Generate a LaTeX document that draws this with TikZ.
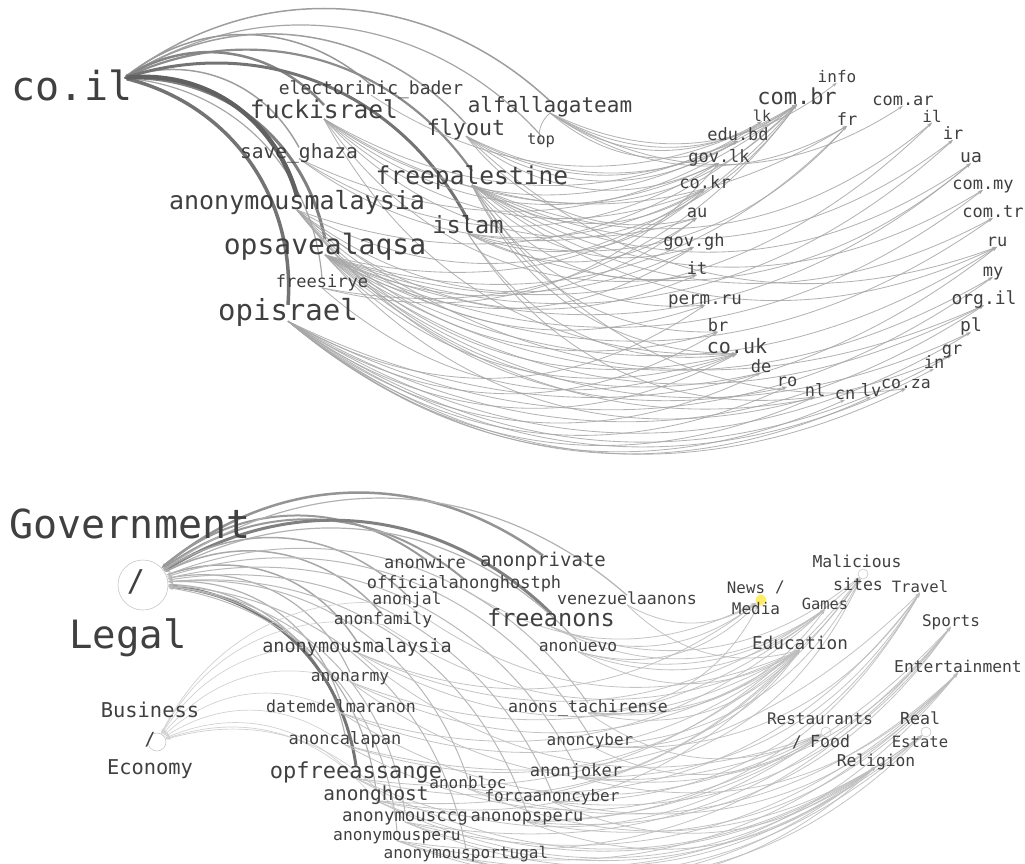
\documentclass[tikz,border=0pt]{standalone}
\usepackage{fontspec}
\setmainfont{DejaVu Sans Mono}
\usetikzlibrary{arrows.meta}
\pgfdeclarelayer{bg}
\pgfsetlayers{bg,main}
\newcommand{\us}{\char`\_}
\tikzset{
  lbl/.style={font=\fontsize{#1}{#1}\selectfont, text=black!75, inner sep=0pt,
              text height={0.55*#1pt}, text depth=0pt},
  dot/.style={circle, draw=black!22, line width=0.6pt, inner sep=0pt, minimum size=#1},
  tip/.style={-{Stealth[length=5pt,width=3.2pt]}},
  hub/.style={tip, line width=#1},
  de/.style={tip, draw=black!35, line width=0.85pt, opacity=0.85},
  ce/.style={tip, draw=black!26, line width=0.8pt, opacity=0.9},
  be/.style={tip, draw=black!18, line width=0.7pt}
}
\begin{document}
\begin{tikzpicture}[x=1pt,y=-1pt]
\useasboundingbox (0,0) rectangle (1025,863);

% ---------------- top: co.il ----------------
\node[lbl=40] (coil) at (72,89) {co.il};
\coordinate (coilh) at (124,78);

\node[lbl=18]   (EB) at (371,90)  {electorinic\us bader};
\node[lbl=24.6] (FI) at (324,112) {fuckisrael};
\node[lbl=21]   (AT) at (550,107) {alfallagateam};
\node[lbl=21.6] (FO) at (466,130) {flyout};
\node[lbl=15.5] (TP) at (541,140) {top};
\node[lbl=19.6] (SG) at (299,153) {save\us ghaza};
\node[lbl=24.6] (FP) at (472,178) {freepalestine};
\node[lbl=25]   (AM) at (297,203) {anonymousmalaysia};
\node[lbl=23.6] (IS) at (468,227) {islam};
\node[lbl=28]   (OS) at (325,247) {opsavealaqsa};
\node[lbl=17]   (FS) at (322,283) {freesirye};
\node[lbl=29]   (OI) at (288,313) {opisrael};

\node[lbl=16] (info)   at (837,78)  {info};
\node[lbl=22] (combr)  at (797,98)  {com.br};
\node[lbl=17] (comar)  at (903,101) {com.ar};
\node[lbl=15] (lk)     at (762,117) {lk};
\node[lbl=17] (fr)     at (847,121) {fr};
\node[lbl=16] (il)     at (932,118) {il};
\node[lbl=17] (edubd)  at (738,136) {edu.bd};
\node[lbl=17] (ir)     at (953,135) {ir};
\node[lbl=17] (govlk)  at (719,158) {gov.lk};
\node[lbl=18] (ua)     at (971,158) {ua};
\node[lbl=17] (cokr)   at (705,184) {co.kr};
\node[lbl=17] (commy)  at (983,185) {com.my};
\node[lbl=17] (au)     at (697,213) {au};
\node[lbl=17] (comtr)  at (993,213) {com.tr};
\node[lbl=17] (govgh)  at (694,242) {gov.gh};
\node[lbl=17] (ru)     at (997,242) {ru};
\node[lbl=17] (it)     at (697,270) {it};
\node[lbl=17] (my)     at (993,272) {my};
\node[lbl=17.5] (permru) at (705,300) {perm.ru};
\node[lbl=18] (orgil)  at (984,300) {org.il};
\node[lbl=17] (br)     at (718,327) {br};
\node[lbl=18] (pl)     at (971,327) {pl};
\node[lbl=20] (couk)   at (737,348) {co.uk};
\node[lbl=17] (gr)     at (952,350) {gr};
\node[lbl=17] (de)     at (761,368) {de};
\node[lbl=17] (in)     at (934,364) {in};
\node[lbl=17] (ro)     at (787,382) {ro};
\node[lbl=17] (nl)     at (815,392) {nl};
\node[lbl=17] (cn)     at (845,395) {cn};
\node[lbl=17] (lv)     at (871,392) {lv};
\node[lbl=16.5] (coza) at (906,384) {co.za};

% ---------------- bottom: categories ----------------
\node[lbl=40] (govt) at (130,527) {Government};
\node[dot=50pt] (gov) at (143,585) {};
\node[lbl=30] (govsl) at (136,583) {/};
\node[lbl=39] (legal) at (128,638) {Legal};
\node[lbl=20.4] (business) at (150,712) {Business};
\node[dot=18pt] (bus) at (157,742) {};
\node[lbl=18] (bussl) at (150,741) {/};
\node[lbl=20.4] (economy) at (150,769) {Economy};

\node[lbl=17]   (AW)  at (425,564) {anonwire};
\node[lbl=19]   (AP)  at (543,561) {anonprivate};
\node[lbl=17]   (OA)  at (464,584) {officialanonghostph};
\node[lbl=16.6] (VZ)  at (627,600) {venezuelaanons};
\node[lbl=16.4] (AJ)  at (407,600) {anonjal};
\node[lbl=16.3] (AF)  at (383,620) {anonfamily};
\node[lbl=23.6] (FA)  at (551,620) {freeanons};
\node[lbl=18.5] (AM2) at (357,647) {anonymousmalaysia};
\node[lbl=16.3] (AN)  at (578,647) {anonuevo};
\node[lbl=16.3] (AR)  at (350,677) {anonarmy};
\node[lbl=16.6] (DM)  at (341,708) {datemdelmaranon};
\node[lbl=16.6] (TA)  at (588,708) {anons\us tachirense};
\node[lbl=17]   (AC)  at (345,740) {anoncalapan};
\node[lbl=16]   (CY)  at (590,741) {anoncyber};
\node[lbl=22]   (OF)  at (356,772) {opfreeassange};
\node[lbl=17]   (JK)  at (576,772) {anonjoker};
\node[lbl=16]   (BL)  at (468,784) {anonbloc};
\node[lbl=19.4] (GH)  at (376,795) {anonghost};
\node[lbl=16]   (FC)  at (552,797) {forcaanoncyber};
\node[lbl=17.4] (CC)  at (405,817) {anonymousccg};
\node[lbl=17]   (PS)  at (527,817) {anonopsperu};
\node[lbl=16.3] (PE)  at (397,836) {anonymousperu};
\node[lbl=16.1] (PT)  at (466,854) {anonymousportugal};

\node[lbl=16.4] (malicious) at (857,563) {Malicious};
\node[dot=10pt] (mal) at (863,574) {};
\node[lbl=16.6] (sites) at (858,586) {sites};
\node[lbl=15.6] (travel) at (920,588) {Travel};
\node[lbl=15.8] (newsl) at (746,589) {News};
\node[lbl=16] (newssl) at (780,588) {/};
\node[circle, fill=yellow!85!orange!60, inner sep=0pt, minimum size=11pt] (news) at (761,600) {};
\node[lbl=16] (media) at (756,610) {Media};
\node[lbl=15.4] (games) at (825,605) {Games};
\node[lbl=16] (sports) at (951,622) {Sports};
\node[lbl=17.7] (edu) at (800,645) {Education};
\node[lbl=16.3] (ent) at (958,668) {Entertainment};
\node[lbl=16] (restaurants) at (820,720) {Restaurants};
\node[lbl=16.6] (reall) at (920,720) {Real};
\node[dot=10pt] (rest) at (826,732) {};
\node[dot=10pt] (real) at (926,732) {};
\node[lbl=16] (restsl) at (797,743) {/};
\node[lbl=16.6] (food) at (830,743) {Food};
\node[lbl=15.6] (estate) at (920,743) {Estate};
\node[lbl=16.3] (rel) at (876,762) {Religion};

\begin{pgfonlayer}{bg}
% top: hacker -> co.il
\foreach \s/\w/\c in {TP/1.2/35, AT/1.5/38, FO/1.5/38, EB/1.5/40, FP/2.2/45, FI/2.5/48,
                       SG/1.5/38, IS/3/55, FS/1.2/35, OS/3/50, OI/3.5/55, AM/4.5/62}
  \draw[hub=\w pt, draw=black!\c] (\s.north) to[bend right=40] (coilh);
% top: hacker -> domains
\foreach \s/\t in {OI/coza, OI/cn, OI/nl, OI/lv, OI/in, OI/gr, OI/pl, OI/orgil, OI/my, OI/ru,
                   OI/de, OI/ro, OI/couk, OI/br, OI/permru,
                   OS/combr, OS/fr, OS/il, OS/ir, OS/ua, OS/commy, OS/comtr, OS/ru, OS/my,
                   OS/orgil, OS/pl, OS/gr, OS/couk, OS/nl, OS/govgh, OS/au,
                   FP/combr, FP/il, FP/ir, FP/ua, FP/commy, FP/comtr, FP/ru, FP/couk, FP/br,
                   FP/permru, FP/it, FP/govgh, FP/cokr, FP/coza,
                   FI/combr, FI/edubd, FI/govlk, FI/cokr, FI/au, FI/fr, FI/couk, FI/it,
                   FO/combr, FO/lk, FO/edubd, FO/govlk, FO/au, FO/ru,
                   AM/combr, AM/cokr, AM/govgh, AM/it, AM/permru, AM/br, AM/couk, AM/de,
                   AM/ro, AM/orgil,
                   IS/combr, IS/fr, IS/cokr, IS/au, IS/couk, IS/nl, IS/ua,
                   AT/edubd, AT/combr, AT/lk, AT/fr, AT/info, AT/comar, AT/TP,
                   SG/combr, SG/govlk, SG/cokr, EB/combr, FS/combr, FS/govlk, FS/couk}
  \draw[de] (\s.south) to[bend right=32] (\t.south);

% bottom: hacker -> Government / Legal
\foreach \s/\w/\c in {AP/2.5/42, AW/2/40, OA/2/40, FA/3/50, VZ/1.2/30, AN/1.2/30, AJ/1.5/34,
                       AF/1.5/34, AM2/1.5/34, AR/1.2/30, DM/1.2/30, TA/1/28, AC/1.2/30,
                       CY/1/28, OF/3/55, JK/1/28, BL/1/28, GH/1.2/30, FC/1/28, CC/1/28,
                       PS/1/28, PE/1/28, PT/1/28}
  \draw[hub=\w pt, draw=black!\c] (\s.north) to[bend right=38] (gov);
% bottom: hacker -> Business / Economy
\foreach \s in {DM, AC, AM2, AR, AF, OF, GH, CC, AJ}
  \draw[be] (\s.south) to[bend right=35] (bus);
% bottom: hacker -> other categories
\foreach \s/\t in {AN/news, FA/news, VZ/news, OA/news, AM2/news, TA/news,
                   FA/mal, AN/mal, TA/mal, CY/mal, JK/mal, GH/mal, OF/mal,
                   CY/travel.south, JK/travel.south, FC/travel.south, BL/travel.south,
                   PS/travel.south, AC/travel.south,
                   FA/games.south, AN/games.south, TA/games.south, AM2/games.south,
                   DM/games.south, AR/games.south,
                   JK/sports.south, FC/sports.south, PS/sports.south, CC/sports.south,
                   PE/sports.south, GH/sports.south,
                   AM2/edu.south, AR/edu.south, DM/edu.south, AC/edu.south, TA/edu.south,
                   CY/edu.south, OF/edu.south, AF/edu.south, AJ/edu.south, VZ/edu.south,
                   AN/edu.south, GH/edu.south,
                   PT/ent.south, PE/ent.south, CC/ent.south, PS/ent.south, FC/ent.south,
                   JK/ent.south, BL/ent.south,
                   AM2/rest, DM/rest, AC/rest, OF/rest, TA/rest, CY/rest, AR/rest,
                   PT/real, PE/real, CC/real, GH/real, BL/real,
                   PT/rel.south, PE/rel.south, CC/rel.south, PS/rel.south, FC/rel.south,
                   OF/rel.south, GH/rel.south}
  \draw[ce] (\s.south) to[bend right=30] (\t);
\end{pgfonlayer}
\end{tikzpicture}
\end{document}
